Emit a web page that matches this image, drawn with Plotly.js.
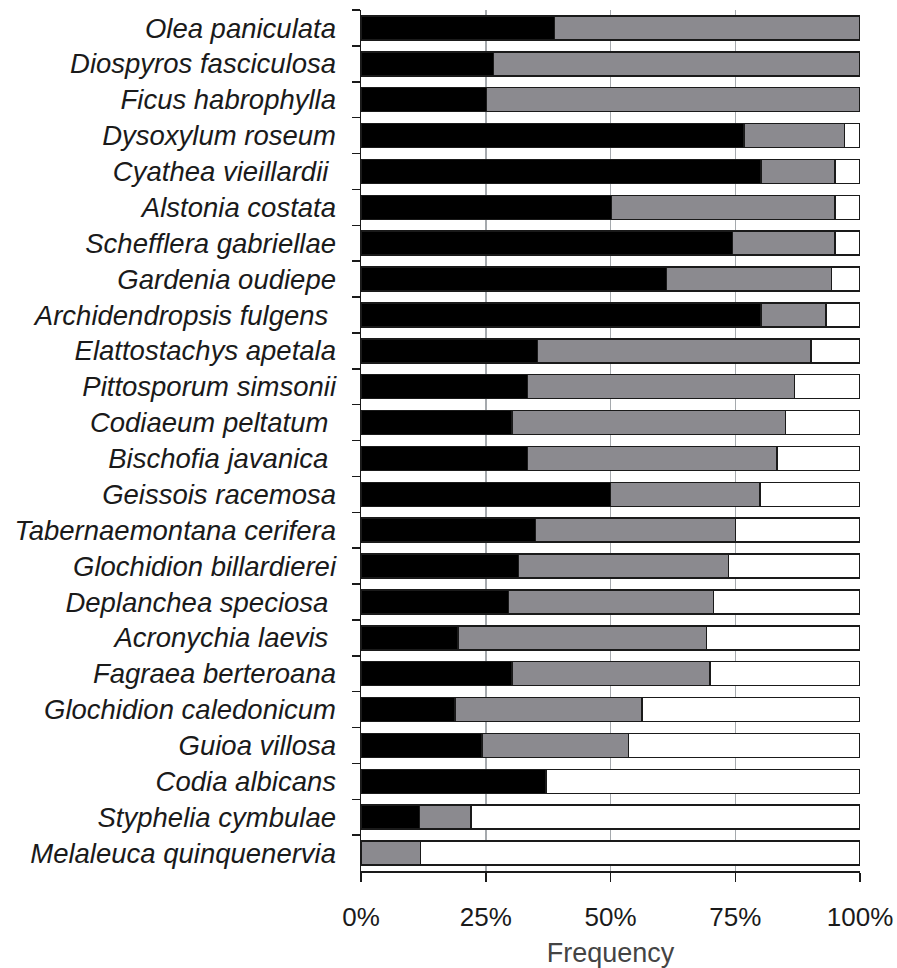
<!DOCTYPE html>
<html>
<head>
<meta charset="utf-8">
<script src="https://cdn.plot.ly/plotly-3.0.1.min.js"></script>
<style>html,body{margin:0;padding:0;background:#fff;}#chart{width:897px;height:968px;}</style>
</head>
<body>
<div id="chart"></div>
<script>
const species = [
  "Olea paniculata",
  "Diospyros fasciculosa",
  "Ficus habrophylla",
  "Dysoxylum roseum",
  "Cyathea vieillardii\u00a0",
  "Alstonia costata",
  "Schefflera gabriellae",
  "Gardenia oudiepe",
  "Archidendropsis fulgens\u00a0",
  "Elattostachys apetala",
  "Pittosporum simsonii",
  "Codiaeum peltatum\u00a0",
  "Bischofia javanica\u00a0",
  "Geissois racemosa",
  "Tabernaemontana cerifera",
  "Glochidion billardierei",
  "Deplanchea speciosa\u00a0",
  "Acronychia laevis\u00a0",
  "Fagraea berteroana",
  "Glochidion caledonicum",
  "Guioa villosa",
  "Codia albicans",
  "Styphelia cymbulae",
  "Melaleuca quinquenervia"
];
const blackVals = [38.8, 26.6, 25.1, 76.8, 80.2, 50.2, 74.4, 61.2, 80.2, 35.4, 33.4, 30.3, 33.4, 50.0, 35.0, 31.6, 29.6, 19.4, 30.3, 18.8, 24.2, 37.1, 11.7, 0];
const grayVals  = [61.2, 73.4, 74.9, 20.1, 14.8, 44.8, 20.6, 33.1, 13.0, 54.8, 53.5, 54.8, 50.0, 30.0, 40.0, 42.0, 41.0, 49.8, 39.6, 37.5, 29.4, 0, 10.3, 11.9];
const whiteVals = [0, 0, 0, 3.1, 5.0, 5.0, 5.0, 5.7, 6.8, 9.8, 13.1, 14.9, 16.6, 20.0, 25.0, 26.4, 29.4, 30.8, 30.1, 43.7, 46.4, 62.9, 78.0, 88.1];
const xTickVals = [0, 25, 50, 75, 100];
const xTickText = ["0%", "25%", "50%", "75%", "100%"];

const outline = {color: '#1a1a1a', width: 1.5};
function mk(vals, color) {
  return {type: 'bar', orientation: 'h', y: species, x: vals,
    marker: {color: color, line: outline}, hoverinfo: 'skip', showlegend: false};
}
const data = [mk(blackVals, '#000000'), mk(grayVals, '#8b8a8f'), mk(whiteVals, '#ffffff')];

const layout = {
  width: 897, height: 968,
  margin: {l: 361, r: 37, t: 10, b: 97},
  barmode: 'stack',
  bargap: 0.33,
  paper_bgcolor: '#fff', plot_bgcolor: '#fff',
  font: {family: 'Liberation Sans, Arial, sans-serif', color: '#1a1a1a'},
  xaxis: {
    range: [0, 100], tickvals: xTickVals, ticktext: xTickText,
    ticks: 'outside', ticklen: 9, tickwidth: 1.5, tickcolor: '#1a1a1a',
    showline: true, linecolor: '#1a1a1a', linewidth: 1.5,
    showgrid: true, gridcolor: '#a5a9ad', gridwidth: 1.5, zeroline: false,
    tickfont: {size: 26, color: '#1a1a1a'},
    ticklabelstandoff: 13,
    title: {text: 'Frequency', font: {size: 27, color: '#444444'}, standoff: 16},
    fixedrange: true
  },
  yaxis: {
    type: 'category', categoryorder: 'array', categoryarray: species,
    autorange: 'reversed',
    ticks: 'outside', ticklen: 8, tickwidth: 1.5, tickcolor: '#1a1a1a',
    tickson: 'boundaries',
    showline: true, linecolor: '#1a1a1a', linewidth: 1.5,
    showgrid: false, zeroline: false,
    tickfont: {size: 27.5, style: 'italic', color: '#1a1a1a'},
    ticklabelstandoff: 18,
    fixedrange: true
  }
};
Plotly.newPlot('chart', data, layout, {staticPlot: true, displayModeBar: false});
</script>
</body>
</html>
